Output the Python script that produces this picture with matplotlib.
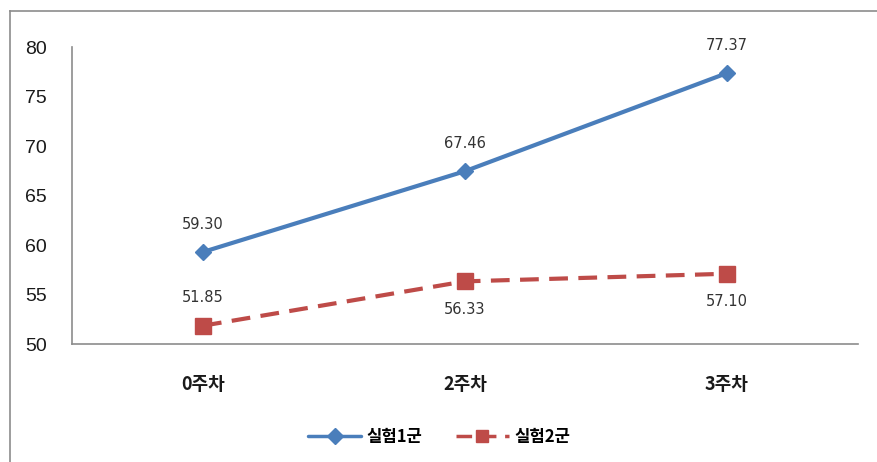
import matplotlib
matplotlib.use("Agg")
import matplotlib.pyplot as plt
from matplotlib.lines import Line2D

plt.rcParams['font.family'] = ['Noto Sans CJK KR', 'DejaVu Sans']

weeks = ['0주차', '2주차', '3주차']
group1 = [59.30, 67.46, 77.37]
group2 = [51.85, 56.33, 57.10]
series_names = ['실험1군', '실험2군']
y_ticks = [50, 55, 60, 65, 70, 75, 80]

blue = '#4A7EBB'
red = '#BE4B48'

fig = plt.figure(figsize=(8.78, 4.62), dpi=100)
fig.patch.set_facecolor('white')

# outer chart frame (top and left edges visible)
fig.add_artist(Line2D([0.011, 1.0], [0.976, 0.976], color='#8c8c8c', lw=1.2,
                      transform=fig.transFigure))
fig.add_artist(Line2D([0.011, 0.011], [0.0, 0.976], color='#8c8c8c', lw=1.2,
                      transform=fig.transFigure))

ax = fig.add_axes([0.082, 0.2554, 0.895, 0.6426])
x = [i + 0.5 for i in range(len(weeks))]

ax.plot(x, group1, color=blue, lw=3, marker='D', markersize=8,
        label=series_names[0], solid_capstyle='round')
ax.plot(x, group2, color=red, lw=3, ls=(0, (4.5, 2.5)), marker='s', markersize=11,
        label=series_names[1])

ax.set_xlim(0, 3)
ax.set_ylim(50, 80)
ax.set_yticks(y_ticks)
ax.set_xticks(x)
ax.set_xticklabels(weeks, fontsize=13, color='#1a1a1a', fontweight='bold')
ax.tick_params(axis='x', length=0, pad=22)
ax.tick_params(axis='y', length=0, pad=18, labelsize=14, labelcolor='#1a1a1a')
for lbl in ax.get_yticklabels():
    lbl.set_family(['Liberation Sans', 'DejaVu Sans'])

for side in ['top', 'right']:
    ax.spines[side].set_visible(False)
for side in ['left', 'bottom']:
    ax.spines[side].set_color('#8c8c8c')
    ax.spines[side].set_linewidth(1.2)

# value labels
label_font = dict(fontsize=10.5, color='#333333', family=['DejaVu Sans'])
for xi, v in zip(x, group1):
    ax.annotate(f'{v:.2f}', (xi, v), xytext=(0, 20), textcoords='offset points',
                ha='center', va='center', **label_font)
offsets2 = [20, -20, -20]
for xi, v, off in zip(x, group2, offsets2):
    ax.annotate(f'{v:.2f}', (xi, v), xytext=(0, off), textcoords='offset points',
                ha='center', va='center', **label_font)

leg = fig.legend(loc='center', bbox_to_anchor=(0.5, 0.054), ncol=2, frameon=False,
                 prop={'size': 12, 'weight': 'bold'}, handlelength=3.2,
                 columnspacing=2.0, handletextpad=0.3)
for h in leg.legend_handles:
    h.set_linewidth(2.5)
    h.set_markersize(8)

fig.savefig('out.png', dpi=100, facecolor='white')
